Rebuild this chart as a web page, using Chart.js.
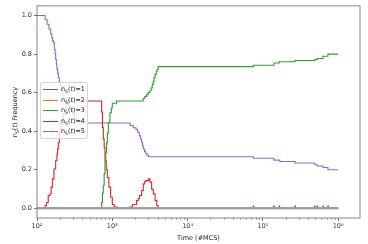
<!DOCTYPE html>
<html>
<head>
<meta charset="utf-8">
<script src="https://cdn.jsdelivr.net/npm/chart.js"></script>
<style>
    html, body { margin: 0; padding: 0; background: #fff; }
    #wrap { position: relative; width: 368px; height: 244px; font-family: "DejaVu Sans", sans-serif; }
    #legend {
        position: absolute; left: 40px; top: 82px; width: 48px; height: 57px;
        background: rgba(255,255,255,0.8); border: 1px solid #d6d6d6; border-radius: 2px;
        box-sizing: border-box;
    }
    .item { position: absolute; left: 0; height: 11px; width: 46px; font-size: 6.4px; color: #222; }
    .item .swatch { position: absolute; left: 2px; top: 5px; width: 15px; height: 0; border-top: 1.5px solid; }
    .item .txt { position: absolute; left: 20px; top: 1.5px; white-space: nowrap; line-height: 7px; }
    sub { font-size: 4.6px; vertical-align: -1.5px; line-height: 0; }
    #ylabel {
        position: absolute; left: 15px; top: 112px; transform: translate(-50%, -50%) rotate(-90deg);
        font-size: 6.5px; color: #222; white-space: nowrap;
    }
</style>
</head>
<body>
<div id="wrap">
    <canvas id="chart"></canvas>
    <div id="legend"></div>
    <div id="ylabel">n<sub>S</sub>(<i>t</i>) Frequency</div>
</div>
<script>
// series: step points (time in MCS, frequency), value holds until the next point
const seriesNames = ['1', '2', '3', '4', '5'];
const legendColors = ['#1f77b4', '#ff7f0e', '#2ca02c', '#d62728', '#9467bd'];

const timeN1 = [100, 1000000];
const valN1 = [0, 0];
const timeN2 = [100, 1000000];
const valN2 = [0, 0];

const timeN3 = [100, 722, 740, 760, 780, 800, 820, 840, 860, 886, 930, 970, 1000, 1140,
    2580, 2700, 2850, 3000, 3160, 3280, 3400, 3500, 3580, 3700, 3830, 3950, 4060,
    74700, 140000, 165000, 267000, 490000, 528000, 630000, 731000, 1000000];
const valN3 = [0, 0.03, 0.08, 0.12, 0.18, 0.24, 0.29, 0.34, 0.39, 0.445, 0.496, 0.52, 0.545, 0.557,
    0.57, 0.58, 0.59, 0.60, 0.61, 0.625, 0.643, 0.66, 0.677, 0.695, 0.711, 0.72, 0.735,
    0.742, 0.754, 0.76, 0.767, 0.772, 0.777, 0.789, 0.80, 0.80];

const timeN4 = [100, 128, 134, 141, 149, 154, 160, 168, 177, 184, 188, 192, 198, 208, 223, 235, 248, 260,
    722, 740, 760, 780, 800, 830, 860, 900, 950, 1000, 1060, 1160,
    1700, 1860, 2100, 2200, 2290, 2450, 2580, 2700, 2800, 3020, 3160, 3330, 3500, 3700, 3900, 4060,
    74700, 75600, 140000, 141700, 165000, 167000, 267000, 270000, 490000, 496000,
    528000, 534000, 630000, 637000, 731000, 740000, 1000000];
const valN4 = [0, 0.015, 0.03, 0.067, 0.076, 0.11, 0.153, 0.204, 0.247, 0.282, 0.31, 0.34, 0.394, 0.437, 0.488, 0.515, 0.54, 0.557,
    0.50, 0.42, 0.36, 0.316, 0.247, 0.2, 0.16, 0.11, 0.058, 0.02, 0.007, 0,
    0.007, 0.02, 0.04, 0.05, 0.067, 0.093, 0.127, 0.14, 0.144, 0.153, 0.136, 0.10, 0.075, 0.04, 0.015, 0,
    0.012, 0, 0.012, 0, 0.012, 0, 0.012, 0, 0.012, 0,
    0.012, 0, 0.012, 0, 0.012, 0, 0];

const timeN5 = [100, 128, 136, 144, 152, 157, 161, 165, 170, 174, 177, 181, 184, 188, 192, 198, 204, 210, 217,
    228, 245, 262, 278, 295, 315, 336, 352, 370,
    1720, 1900, 2060, 2160, 2290, 2370, 2450, 2520, 2580, 2680, 2760, 2880, 3020,
    74700, 140000, 168000, 267000, 490000, 528000, 630000, 731000, 1000000];
const valN5 = [1.0, 0.978, 0.955, 0.93, 0.905, 0.884, 0.87, 0.858, 0.824, 0.80, 0.772, 0.745, 0.72, 0.70, 0.677, 0.655, 0.634, 0.612, 0.591,
    0.57, 0.55, 0.53, 0.51, 0.49, 0.475, 0.46, 0.45, 0.443,
    0.43, 0.418, 0.41, 0.395, 0.376, 0.36, 0.343, 0.325, 0.308, 0.295, 0.286, 0.276, 0.268,
    0.26, 0.25, 0.243, 0.235, 0.226, 0.22, 0.212, 0.20, 0.20];

const yTicks = [0, 0.2, 0.4, 0.6, 0.8, 1.0];
const xDecades = [100, 1000, 10000, 100000, 1000000];
const xLabels = ['10²', '10³', '10⁴', '10⁵', '10⁶'];

const pts = (ts, vs) => ts.map((t, i) => ({ x: t, y: vs[i] }));

// the zero baselines of all runs overlap into a grey band
const zeroColor = '#a39b95';

const datasets = [
    { label: 'n1', data: pts(timeN1, valN1), borderColor: zeroColor, borderWidth: 2 },
    { label: 'n2', data: pts(timeN2, valN2), borderColor: zeroColor, borderWidth: 2 },
    { label: 'n3', data: pts(timeN3, valN3), borderColor: legendColors[2], borderWidth: 1.1 },
    { label: 'n4', data: pts(timeN4, valN4), borderColor: legendColors[3], borderWidth: 1.1 },
    { label: 'n5', data: pts(timeN5, valN5), borderColor: legendColors[4], borderWidth: 1.1 },
].map(d => ({ ...d, stepped: 'before', pointRadius: 0, fill: false }));

const minorTicks = [];
for (let e = 2; e <= 6; e++) {
    for (let k = 2; k <= 9; k++) minorTicks.push(k * Math.pow(10, e));
}

const axisFont = { family: 'DejaVu Sans', size: 6.5 };

const framePlugin = {
    id: 'frame',
    afterDraw(chart) {
        const { ctx, chartArea: a, scales } = chart;
        ctx.save();
        ctx.strokeStyle = '#666';
        ctx.lineWidth = 0.8;
        ctx.strokeRect(a.left, a.top, a.right - a.left, a.bottom - a.top);
        // minor ticks on the log axis
        ctx.beginPath();
        for (const v of minorTicks) {
            const x = scales.x.getPixelForValue(v);
            if (x > a.right) continue;
            ctx.moveTo(Math.round(x) + 0.5, a.bottom);
            ctx.lineTo(Math.round(x) + 0.5, a.bottom + 1.8);
        }
        ctx.lineWidth = 0.6;
        ctx.stroke();
        ctx.restore();
    }
};

new Chart(document.getElementById('chart'), {
    type: 'line',
    data: { datasets },
    plugins: [framePlugin],
    options: {
        responsive: true,
        maintainAspectRatio: false,
        animation: false,
        devicePixelRatio: 1,
        layout: { padding: { top: 4, right: 8, left: 0, bottom: 0 } },
        plugins: { legend: { display: false }, tooltip: { enabled: false } },
        scales: {
            x: {
                type: 'logarithmic',
                min: 100,
                max: 1950000,
                afterFit: (s) => { s.height = 26; },
                afterBuildTicks: (s) => { s.ticks = xDecades.map(v => ({ value: v })); },
                ticks: {
                    autoSkip: false, maxRotation: 0, padding: 1,
                    font: axisFont, color: '#333',
                    callback: (v) => xLabels[xDecades.indexOf(v)] ?? '',
                },
                grid: { drawOnChartArea: false, tickLength: 3, tickColor: '#555', tickWidth: 0.8 },
                border: { display: false },
                title: { display: true, text: 'Time (#MCS)', font: axisFont, color: '#222', padding: { top: 0, bottom: 2 } },
            },
            y: {
                min: -0.05,
                max: 1.05,
                afterFit: (s) => { s.width = 37; },
                afterBuildTicks: (s) => { s.ticks = yTicks.map(v => ({ value: v })); },
                ticks: { font: axisFont, color: '#333', padding: 2, callback: (v) => v.toFixed(1) },
                grid: { drawOnChartArea: false, tickLength: 3, tickColor: '#555', tickWidth: 0.8 },
                border: { display: false },
            },
        },
    },
});

// legend as html so the subscript can be real text
const legend = document.getElementById('legend');
const rowTops = [1, 12, 22, 33, 43];
seriesNames.forEach((n, i) => {
    const row = document.createElement('div');
    row.className = 'item';
    row.style.top = rowTops[i] + 'px';
    row.innerHTML = `<span class="swatch" style="border-color:${legendColors[i]}"></span>` +
        `<span class="txt">n<sub>S</sub>(<i>t</i>)=${n}</span>`;
    legend.appendChild(row);
});
</script>
</body>
</html>
